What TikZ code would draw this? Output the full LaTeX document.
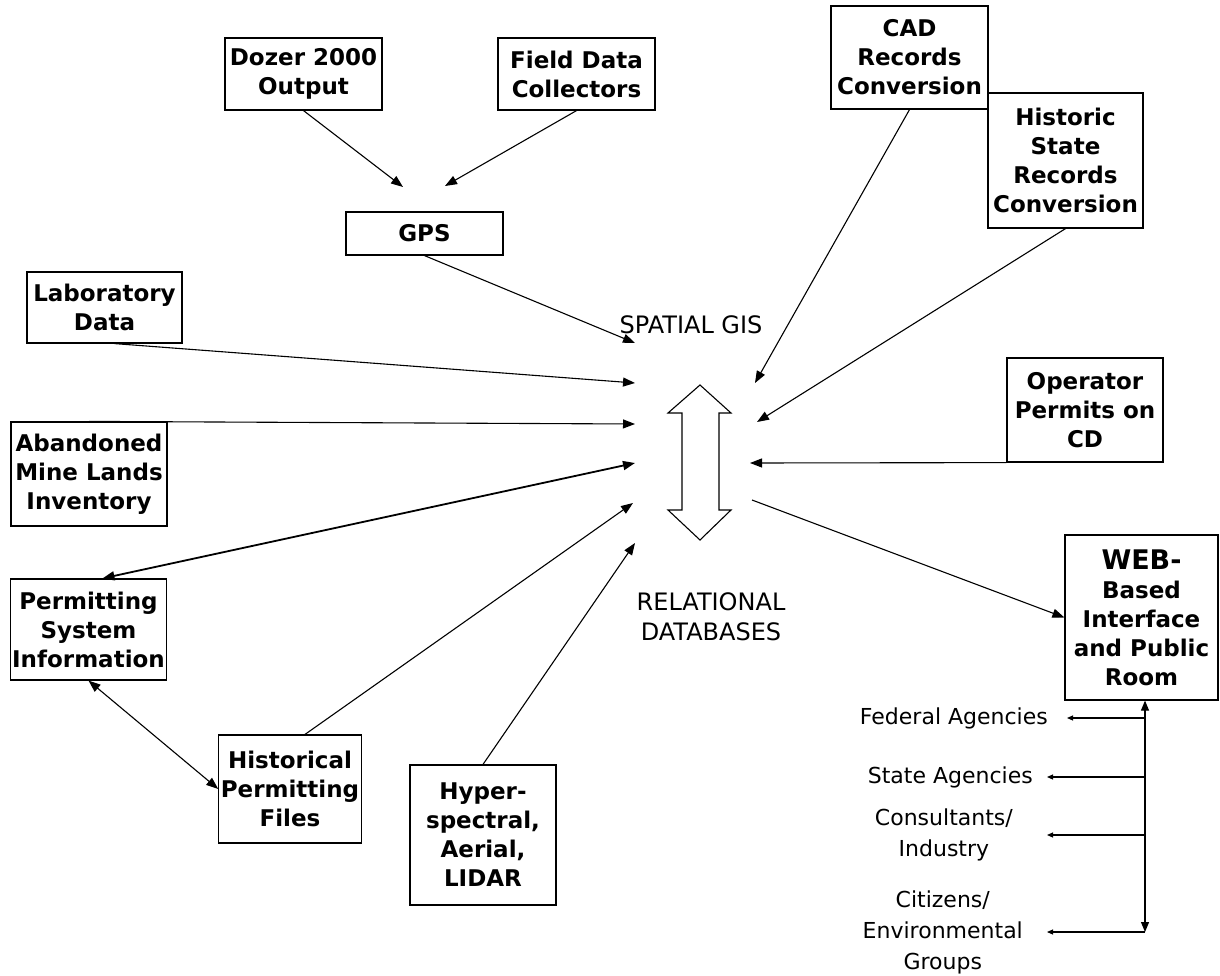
\documentclass[tikz,border=0pt]{standalone}
\usepackage{fontspec}
\setmainfont{DejaVu Sans}
\usetikzlibrary{arrows.meta, positioning}
\tikzset{
  srcbox/.style={draw=black, line width=1.2pt, fill=white, align=center,
    inner sep=2pt, font=\bfseries\fontsize{23}{29}\selectfont},
  userlabel/.style={inner sep=0pt, align=center, font=\fontsize{22}{31}\selectfont},
  hublabel/.style={inner sep=0pt, align=center, font=\fontsize{24}{30}\selectfont},
  flowarrow/.style={-{Triangle[length=12pt,width=9pt]}, line width=1.1pt},
  bothflow/.style={{Triangle[length=12pt,width=9pt]}-{Triangle[length=12pt,width=9pt]}, line width=1.1pt},
  smallarrow/.style={-{Triangle[length=6pt,width=5pt]}, line width=1.1pt},
}
\begin{document}
\begin{tikzpicture}[x=1pt, y=-1pt]
  \useasboundingbox (0,0) rectangle (1220,976);
  % sources
  \node[srcbox, minimum width=157, minimum height=72] (dozer) at (303.5,74) {Dozer 2000\\Output};
  \node[srcbox, minimum width=157, minimum height=72] (field) at (576.5,74) {Field Data\\Collectors};
  \node[srcbox, minimum width=157, minimum height=43] (gps) at (424.5,233.5) {GPS};
  \node[srcbox, minimum width=157, minimum height=103] (cad) at (909.5,57.5) {CAD\\Records\\Conversion};
  \node[srcbox, minimum width=155, minimum height=135] (hist) at (1065.5,160.5) {Historic\\State\\Records\\Conversion};
  \node[srcbox, minimum width=155, minimum height=71] (lab) at (104.5,307.5) {Laboratory\\Data};
  \node[srcbox, minimum width=156, minimum height=104] (aml) at (89,474) {Abandoned\\Mine Lands\\Inventory};
  \node[srcbox, minimum width=155, minimum height=101] (psi) at (88.5,629.5) {Permitting\\System\\Information};
  \node[srcbox, minimum width=132, minimum height=108] (hpf) at (290,789) {Historical\\Permitting\\Files};
  \node[srcbox, minimum width=146, minimum height=140] (hyper) at (483,835) {Hyper-\\spectral,\\Aerial,\\LIDAR};
  \node[srcbox, minimum width=156, minimum height=104] (oper) at (1085,410) {Operator\\Permits on\\CD};
  \node[srcbox, minimum width=153, minimum height=165] (web) at (1141.5,617.5)
    {{\fontsize{27}{31}\selectfont WEB-}\\Based\\Interface\\and Public\\Room};
  % hub
  \draw[line width=1.1pt, fill=white] (700,385) -- (731,413) -- (719,413) -- (719,510)
    -- (731,510) -- (700,540) -- (668,510) -- (682,510) -- (682,413) -- (668,413) -- cycle;
  \node[hublabel] (gis) at (691,325) {SPATIAL GIS};
  \node[hublabel] (rdb) at (711,617) {RELATIONAL\\DATABASES};
  % arrow ends round the hub
  \coordinate (tdozer) at (403,187);
  \coordinate (tfield) at (445,186);
  \coordinate (tgps) at (635,343);
  \coordinate (tlab) at (635,383);
  \coordinate (taml) at (635,424);
  \coordinate (tpsi) at (635,463);
  \coordinate (thpf) at (633,503);
  \coordinate (thyper) at (635,543);
  \coordinate (tcad) at (755,383);
  \coordinate (thist) at (757,422);
  \coordinate (toper) at (750,463);
  \coordinate (sweb) at (752,500);
  \coordinate (slab) at ([xshift=10]lab.south);
  \coordinate (spsi) at ([xshift=14]psi.north);
  \coordinate (shpf) at ([xshift=15]hpf.north);
  \foreach \a/\b in {dozer.south/tdozer, field.south/tfield, gps.south/tgps,
    slab/tlab, aml.north/taml, shpf/thpf, hyper.north/thyper,
    cad.south/tcad, hist.south/thist, oper.south west/toper, sweb/web.west}
    \draw[flowarrow] (\a) -- (\b);
  \draw[bothflow, line width=1.8pt] (spsi) -- (tpsi);
  \draw[bothflow] (psi.south) -- (hpf.west);
  % users of the web room
  \coordinate (wtop) at ([xshift=3.5]web.south);
  \coordinate (wbot) at (1145,932);
  \coordinate (jfed) at (1145,718);
  \coordinate (jstate) at (1145,777);
  \coordinate (jcons) at (1145,835);
  \coordinate (tfed) at (1067,718);
  \coordinate (tstate) at (1047,777);
  \coordinate (tcons) at (1047,835);
  \coordinate (tcit) at (1047,932);
  \draw[bothflow, {Triangle[length=10pt,width=8pt]}-{Triangle[length=10pt,width=8pt]}] (wtop) -- (wbot);
  \node[userlabel, left=19pt of tfed] (fed) {Federal Agencies};
  \node[userlabel, left=14pt of tstate] (state) {State Agencies};
  \node[userlabel, left=34pt of tcons] (cons) {Consultants/\\Industry};
  \node[userlabel, left=24pt of tcit] (cit) {Citizens/\\Environmental\\Groups};
  \foreach \a/\b in {jfed/tfed, jstate/tstate, jcons/tcons, wbot/tcit}
    \draw[smallarrow] (\a) -- (\b);
\end{tikzpicture}
\end{document}
